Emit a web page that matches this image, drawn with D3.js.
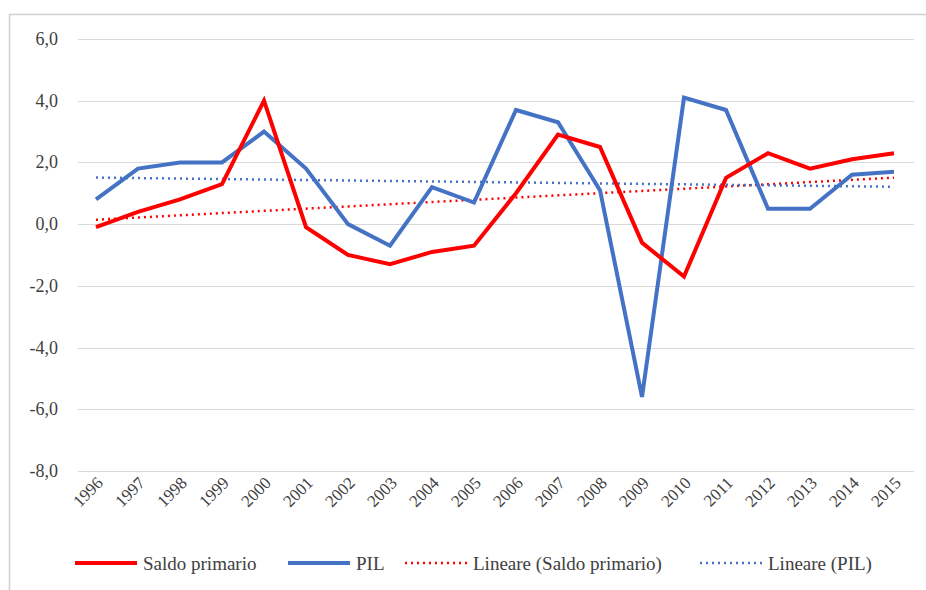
<html>
  <head>
    <script src="https://cdn.jsdelivr.net/npm/d3@7"></script>
  </head>
  <body>
    <style>
      body{
        margin: 0;
        padding: 0;
        background-color: white;
      }
    </style>
    <div id="chart"></div>
    <script>
      // data
      var years = ["1996","1997","1998","1999","2000","2001","2002","2003","2004","2005",
                   "2006","2007","2008","2009","2010","2011","2012","2013","2014","2015"];
      var saldoPrimario = [-0.1, 0.4, 0.8, 1.3, 4.0, -0.1, -1.0, -1.3, -0.9, -0.7,
                           1.0, 2.9, 2.5, -0.6, -1.7, 1.5, 2.3, 1.8, 2.1, 2.3];
      var pil = [0.8, 1.8, 2.0, 2.0, 3.0, 1.8, 0.0, -0.7, 1.2, 0.7,
                 3.7, 3.3, 1.1, -5.6, 4.1, 3.7, 0.5, 0.5, 1.6, 1.7];
      var yTicks = [6, 4, 2, 0, -2, -4, -6, -8];
      var legendLabels = ["Saldo primario", "PIL", "Lineare (Saldo primario)", "Lineare (PIL)"];

      var width = 926, height = 590;
      var red = "#ff0000", blue = "#4472c4";
      var font = "'Liberation Serif', 'DejaVu Serif', serif";

      // least squares trend, like the spreadsheet's "Lineare"
      function trend(vals){
        var n = vals.length, sx = 0, sy = 0, sxy = 0, sxx = 0;
        vals.forEach(function(v, i){ sx += i; sy += v; sxy += i * v; sxx += i * i; });
        var b = (n * sxy - sx * sy) / (n * sxx - sx * sx);
        var a = (sy - b * sx) / n;
        return vals.map(function(v, i){ return a + b * i; });
      }

      var svg = d3.select("#chart").append("svg")
        .attr("width", width).attr("height", height)
        .attr("font-family", font);

      // frame
      svg.append("path")
        .attr("d", "M9.5,592V14.5H928")
        .attr("fill", "none").attr("stroke", "#d0d0d0").attr("stroke-width", 1.5);

      var x = d3.scaleBand().domain(years).range([75, 915]);
      var y = d3.scaleLinear().domain([-8, 6]).range([471, 39]);
      var cx = function(d, i){ return x(years[i]) + x.bandwidth() / 2; };

      // grid
      svg.append("g").selectAll("line").data(yTicks).join("line")
        .attr("x1", 78).attr("x2", 914)
        .attr("y1", function(d){ return Math.round(y(d)) + 0.5; })
        .attr("y2", function(d){ return Math.round(y(d)) + 0.5; })
        .attr("stroke", "#d9d9d9").attr("stroke-width", 1);

      var fmt = function(d){ return d3.format(".1f")(d).replace(".", ",").replace("−", "-"); };
      svg.append("g").selectAll("text").data(yTicks).join("text")
        .attr("x", 58).attr("y", function(d){ return y(d) + 6; })
        .attr("text-anchor", "end").attr("fill", "#404040")
        .attr("font-size", 18)
        .text(fmt);

      svg.append("g").selectAll("text").data(years).join("text")
        .attr("transform", function(d){
          return "translate(" + (x(d) + x.bandwidth() / 2 + 8) + ",484) rotate(-45)";
        })
        .attr("text-anchor", "end").attr("fill", "#404040")
        .attr("font-size", 17)
        .text(function(d){ return d; });

      var line = d3.line().x(cx).y(function(d){ return y(d); });

      svg.append("path").datum(trend(saldoPrimario)).attr("d", line)
        .attr("fill", "none").attr("stroke", red).attr("stroke-width", 2.5)
        .attr("stroke-dasharray", "2,4");
      svg.append("path").datum(trend(pil)).attr("d", line)
        .attr("fill", "none").attr("stroke", blue).attr("stroke-width", 2.5)
        .attr("stroke-dasharray", "2,4");
      svg.append("path").datum(pil).attr("d", line)
        .attr("fill", "none").attr("stroke", blue).attr("stroke-width", 4);
      svg.append("path").datum(saldoPrimario).attr("d", line)
        .attr("fill", "none").attr("stroke", red).attr("stroke-width", 4);

      // legend
      var legend = [
        {x: 75, label: legendLabels[0], color: red, dash: null, w: 4},
        {x: 288, label: legendLabels[1], color: blue, dash: null, w: 4},
        {x: 405, label: legendLabels[2], color: red, dash: "2,4", w: 2.5},
        {x: 700, label: legendLabels[3], color: blue, dash: "2,4", w: 2.5}
      ];
      var lg = svg.append("g").selectAll("g").data(legend).join("g")
        .attr("transform", function(d){ return "translate(" + d.x + ",563)"; });
      lg.append("line").attr("x1", 0).attr("x2", 62).attr("y1", 0).attr("y2", 0)
        .attr("stroke", function(d){ return d.color; })
        .attr("stroke-width", function(d){ return d.w; })
        .attr("stroke-dasharray", function(d){ return d.dash; });
      lg.append("text").attr("x", 68).attr("y", 7)
        .attr("fill", "#404040").attr("font-size", 19)
        .text(function(d){ return d.label; });
    </script>
  </body>
</html>
